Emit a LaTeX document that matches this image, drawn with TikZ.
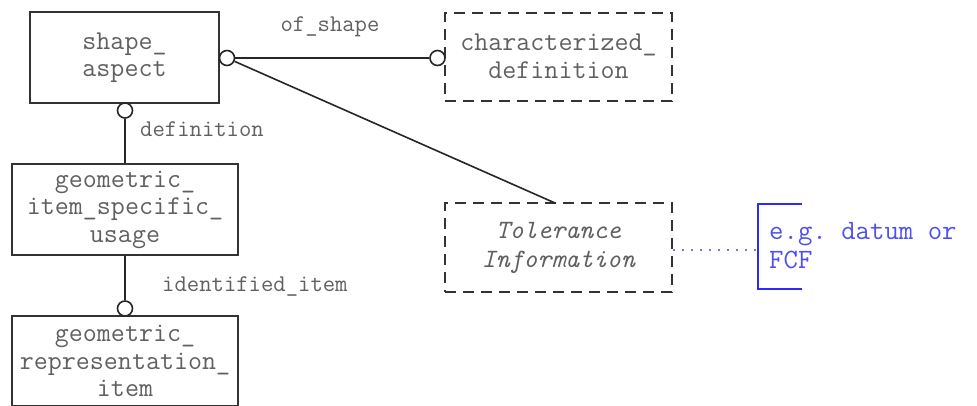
\documentclass[tikz,border=0pt]{standalone}
\usepackage{fontspec}
\usetikzlibrary{calc}
\definecolor{boxline}{HTML}{333333}
\definecolor{txt}{HTML}{606060}
\definecolor{notecol}{HTML}{5050F0}
\definecolor{brk}{HTML}{2A2AFF}
\begin{document}
\frenchspacing
\begin{tikzpicture}[x=1pt,y=-1pt,
  entity/.style={draw=boxline, line width=2pt, minimum width=189pt, minimum height=91pt, inner sep=0pt,
     align=center, text=txt, font=\ttfamily\fontsize{27.2}{27.5}\selectfont},
  dentity/.style={entity, dash pattern=on 11pt off 7pt, minimum width=227pt, minimum height=88pt},
  rel/.style={draw=black!85, line width=1.6pt},
  ring/.style={circle, draw=black!85, fill=white, line width=1.6pt, minimum size=15pt, inner sep=0pt},
  lab/.style={text=txt, font=\ttfamily\fontsize{24}{24}\selectfont, inner sep=0pt}]
\useasboundingbox (0,0) rectangle (977,405);
% entities
\node[entity] (sa) at (124.5,57.5) {shape\_\\aspect};
\node[dentity] (cd) at (558.5,56.5) {characterized\_\\definition};
\node[entity, minimum width=226pt] (gisu) at (125,209.5) {geometric\_\\item\_specific\_\\usage};
\node[entity, minimum width=226pt, minimum height=90pt] (gri) at (125,361) {geometric\_\\representation\_\\item};
\node[dentity, minimum height=89pt, font=\ttfamily\itshape\fontsize{26.5}{29}\selectfont] (ti) at (558.5,247.5) {Tolerance\\Information};
% rings
\node[ring] (r1) at (227,58) {};
\node[ring] (r2) at (437.5,58) {};
\node[ring] (r3) at (125,110.5) {};
\node[ring] (r4) at (125,308.5) {};
\coordinate (tiend) at (555,203);
% relations
\draw[rel] (r1) -- (r2);
\draw[rel] (r1) -- (tiend);
\draw[rel] (r3) -- (gisu.north);
\draw[rel] (gisu.south) -- (r4);
% labels
\node[lab] (l1) at (330,27) {of\_shape};
\node[lab, anchor=west] (l2) at (140,129) {definition};
\node[lab, anchor=west] (l3) at (162,286) {identified\_item};
% note
\coordinate (bt) at (758,204);
\coordinate (bb) at (758,289);
\coordinate (bm) at (758,250);
\draw[brk, line width=2pt] (802,204) -- (bt) -- (bb) -- (802,289);
\draw[notecol!80, line width=2pt, dash pattern=on 2pt off 7pt] (ti.east |- bm) -- (bm);
\node[anchor=west, align=left, text=notecol, inner sep=0pt, font=\ttfamily\fontsize{28}{29}\selectfont] (note) at (769,246) {e.g. datum or\\FCF};
\end{tikzpicture}
\end{document}
